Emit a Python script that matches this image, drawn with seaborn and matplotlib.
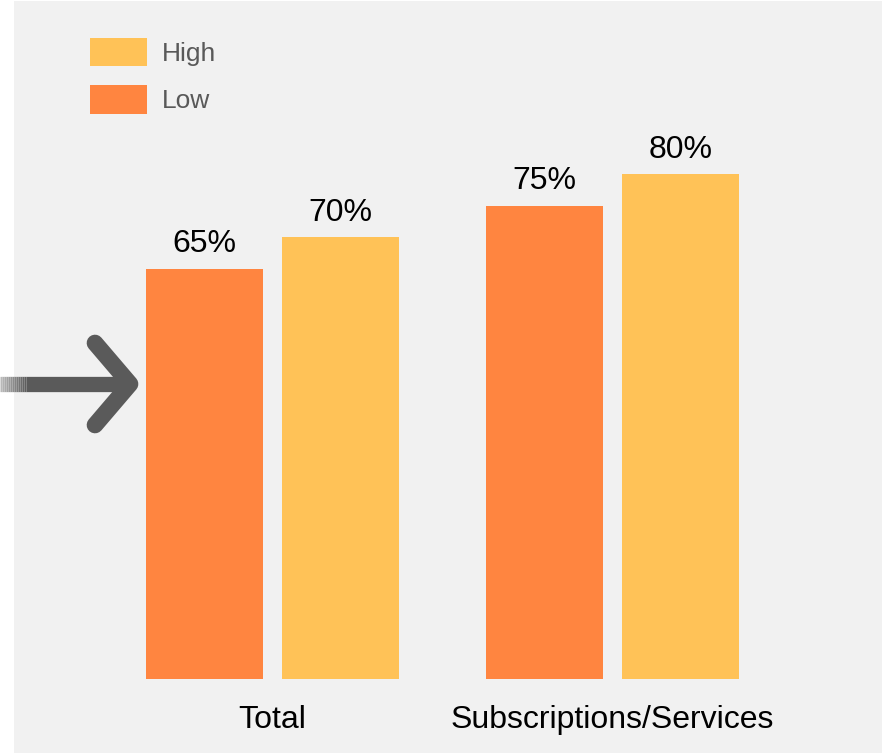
import pandas as pd
import matplotlib.pyplot as plt
import seaborn as sns
from matplotlib.patches import Patch, Rectangle
from matplotlib.lines import Line2D
from matplotlib.colors import to_rgb

categories = ["Total", "Subscriptions/Services"]
levels = ["Low", "High"]
low_values = [65, 75]
high_values = [70, 80]
colors = {"Low": "#FF8540", "High": "#FFC257"}

df = pd.DataFrame({
    "category": categories * 2,
    "level": ["Low"] * len(categories) + ["High"] * len(categories),
    "value": low_values + high_values,
})

sns.set_style("white")
plt.rcParams["font.family"] = ["Liberation Sans", "DejaVu Sans"]

W, H = 891, 753
fig = plt.figure(figsize=(W / 100, H / 100), dpi=100, facecolor="white")

# grey panel behind everything
fig.patches.append(Rectangle((14 / W, 0), 868 / W, 752 / H, transform=fig.transFigure,
                             facecolor="#F1F1F1", edgecolor="none", zorder=-10))

ax = fig.add_axes([14 / W, (H - 679.3) / H, 868 / W, 631.3 / H])
ax.set_facecolor("none")
ax.set_zorder(2)

sns.barplot(data=df, x="category", y="value", hue="level", hue_order=levels,
            palette=colors, width=0.8, gap=0.14, saturation=1, legend=False,
            linewidth=0, ax=ax)

ax.set_xlim(-0.7603, 1.7926)
ax.set_ylim(0, 100)
for c in ax.containers:
    ax.bar_label(c, fmt="%d%%", padding=7, fontsize=23, color="black")

sns.despine(ax=ax, left=True, bottom=True)
ax.set_yticks([])
ax.set_xlabel("")
ax.set_ylabel("")
ax.tick_params(axis="x", length=0, pad=18.5, labelsize=23, labelcolor="black")

handles = [Patch(facecolor=colors["High"], edgecolor="none", label="High"),
           Patch(facecolor=colors["Low"], edgecolor="none", label="Low")]
fig.legend(handles=handles, loc="upper left", bbox_to_anchor=(90 / W, (H - 38) / H),
           frameon=False, fontsize=19, labelcolor="#595959", handlelength=2.16,
           handleheight=1.28, handletextpad=0.57, labelspacing=0.71, borderpad=0,
           borderaxespad=0)

# arrow on the left pointing at the first bar
def px(x, y):
    return x / W, (H - y) / H

arrow_col = "#5A5A5A"
dark = to_rgb(arrow_col)
light = to_rgb("#BDBDBD")
steps = 13
for i in range(steps):
    x0 = 26 * i / steps
    x1 = 26 * (i + 1) / steps
    t = (i + 0.5) / steps
    col = tuple(l + (d - l) * t for l, d in zip(light, dark))
    (fx0, fy), (fx1, _) = px(x0, 384), px(x1, 384)
    fig.add_artist(Line2D([fx0, fx1], [fy, fy], color=col, lw=11,
                          solid_capstyle="butt"))
(sx0, sy), (sx1, _) = px(26, 384), px(128, 384)
fig.add_artist(Line2D([sx0, sx1], [sy, sy], color=arrow_col, lw=11, solid_capstyle="butt"))
hx = [95, 130, 95]
hy = [343, 384, 425]
fx, fy = zip(*[px(x, y) for x, y in zip(hx, hy)])
fig.add_artist(Line2D(fx, fy, color=arrow_col, lw=12, solid_capstyle="round",
                      solid_joinstyle="round"))

fig.savefig("out.png", dpi=100, facecolor="white")
